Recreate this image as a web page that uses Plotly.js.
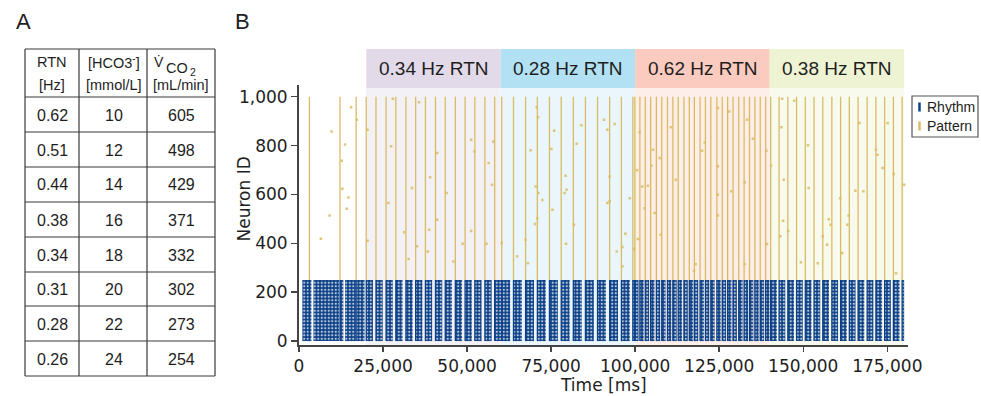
<!DOCTYPE html>
<html>
<head>
<meta charset="utf-8">
<script src="https://cdn.plot.ly/plotly-3.0.1.min.js"></script>
<style>html,body{margin:0;padding:0;background:#fff;}#chart{width:981px;height:396px;}</style>
</head>
<body>
<div id="chart"></div>
<script>
// ---------- Panel A: table data ----------
const headerName = ['RTN', '[HCO3<sup>-</sup>]', null];   // third column header built from vco2Label parts
const vco2Label = ['V\u0307', 'CO', '2'];
const headerUnit = ['[Hz]', '[mmol/L]', '[mL/min]'];
const rtnHz = ['0.62', '0.51', '0.44', '0.38', '0.34', '0.31', '0.28', '0.26'];
const hco3 = [10, 12, 14, 16, 18, 20, 22, 24];
const vco2 = [605, 498, 429, 371, 332, 302, 273, 254];

// ---------- Panel B: stimulation regions ----------
const regionRate = [0.34, 0.28, 0.62, 0.38];
const regionStart = [20000, 60000, 100000, 140000];
const regionEnd = [60000, 100000, 140000, 180000];

// Pattern neurons (IDs 250..1000) synchronous spike times [ms]
const patternIdRange = [250, 1000];
const patternTimes = [3100, 12200, 17000,
  20000, 22900, 25900, 28800, 31800, 34700, 37600, 40600, 43500, 46500, 49400, 52300, 55300, 58200,
  60300, 63800, 67400, 70900, 74500, 78000, 81600, 85200, 88800, 92400, 95900, 99300,
  99900, 101400, 103000, 104600, 106300, 107900, 109600, 111200, 112800, 114500, 116100, 117600, 119300,
  120900, 122500, 124300, 125900, 127500, 129100, 130800, 132400, 134000, 135600, 137200, 138800,
  140300, 142800, 145400, 148000, 150600, 153200, 155800, 158500, 161100, 163700, 166300, 169000,
  171600, 174200, 176800, 179400];

// Sparse pattern-neuron spikes [ms], [ID]
const patternDotT = [15500, 17200, 9700, 13700, 12700, 12900, 14700, 14200, 9100, 6500, 20400, 27400, 26600, 20400, 27900,
  35700, 41100, 33600, 39000, 43900, 41100, 31300, 38700, 38300, 32600, 35100, 51200, 52200, 57800, 56400, 57400, 51200, 48700, 55800, 45900, 60300,
  70700, 71100, 75900, 68900, 75100, 84000, 82600, 90700, 91700, 70400, 71200, 72400, 75400, 79300, 79600, 79000, 70200, 70900, 67400, 64900, 68100, 81800, 79400, 91700,
  93900, 92400, 92400, 98400, 97100, 94500, 96200, 96200, 101300, 105300, 107300, 104800, 100600, 102100, 103800, 102800, 105800, 100800, 99700, 107600, 110600, 112100, 120700, 119900, 118000, 117500,
  124600, 128000, 133300, 135000, 139000, 140400, 124600, 132600, 128600, 124600, 124600, 139200, 132600, 143700, 147300, 143500, 151400, 144200, 151600, 144000, 145500, 143200, 149300,
  166700, 175100, 171600, 172100, 173600, 176900, 180000, 165500, 167900, 161000, 163500, 157600, 163100, 158100, 155800, 157100, 161600, 177600, 154300];
const patternDotId = [957, 906, 858, 804, 738, 623, 588, 542, 514, 419, 865, 797, 565, 411, 992,
  977, 770, 626, 670, 606, 497, 445, 456, 367, 336, 388, 824, 776, 817, 729, 640, 451, 398, 398, 326, 401,
  957, 916, 861, 781, 786, 883, 808, 906, 865, 633, 606, 577, 537, 677, 619, 606, 479, 503, 415, 347, 319, 476, 398, 565,
  888, 674, 572, 585, 439, 367, 385, 306, 855, 783, 749, 719, 699, 633, 636, 544, 524, 418, 377, 435, 875, 660, 813, 779, 315, 288,
  954, 940, 906, 828, 779, 719, 715, 650, 613, 599, 514, 397, 315, 992, 984, 875, 801, 660, 626, 492, 451, 429, 323,
  892, 892, 783, 763, 708, 684, 640, 615, 613, 585, 514, 499, 476, 476, 429, 394, 360, 278, 319];

// Rhythm neurons (IDs 0..250) burst intervals [ms]
const rhythmIdRange = [0, 250];
const rhythmBurstStart = [1000, 4300, 12200, 13700, 17100,
  20000, 22900, 25900, 28800, 31800, 34700, 37600, 40600, 43500, 46500, 49400, 52300, 55300, 58200,
  60300, 63800, 67400, 70900, 74500, 78000, 81600, 85200, 88800, 92400, 95900,
  99300, 101400, 103000, 104600, 106300, 107900, 109600, 111200, 112800, 114500, 116100, 117600, 119300,
  120900, 122500, 124300, 125900, 127500, 129100, 130800, 132400, 134000, 135600, 137200, 138800,
  140300, 142800, 145400, 148000, 150600, 153200, 155800, 158500, 161100, 163700, 166300, 169000,
  171600, 174200, 176800, 179400];
const rhythmBurstEnd = [3700, 11900, 13200, 16900, 19500,
  22000, 24900, 27900, 30800, 33800, 36700, 39600, 42600, 45500, 48500, 51400, 54300, 57300, 60200,
  62800, 66300, 69900, 73400, 77000, 80500, 84100, 87700, 91300, 94900, 98400,
  101000, 102550, 104150, 105750, 107450, 109050, 110750, 112350, 113950, 115650, 117250, 118750, 120450,
  122050, 123650, 125450, 127050, 128650, 130250, 131950, 133550, 135150, 136750, 138350, 139950,
  142150, 144650, 147250, 149850, 152450, 155050, 157650, 160350, 162950, 165550, 168150, 170850,
  173450, 176050, 178650, 180000];

const seriesNames = ['Rhythm', 'Pattern'];
const xTitle = 'Time [ms]';
const yTitle = 'Neuron ID';

// ---------- styles ----------
const W = 981, H = 396;
const BLUE = '#0b3f86';
const GOLD = '#d9bc62';
const headerFill = ['#e2dae9', '#b2e1f3', '#fbcbbf', '#eef4d3'];
const plotFill = ['#f3f1f6', '#eaf6fb', '#fdeeea', '#f8faee'];
const px = v => v / W;
const py = v => 1 - v / H;
const ARIAL = 'Liberation Sans, Arial, sans-serif';
const TXT = '#1e1e1e';

// ---------- traces ----------
const patLineX = [], patLineY = [];
patternTimes.forEach(t => { patLineX.push(t, t, null); patLineY.push(patternIdRange[0], patternIdRange[1], null); });
const rhyLineX = [], rhyLineY = [];
patternTimes.forEach(t => { rhyLineX.push(t, t, null); rhyLineY.push(rhythmIdRange[0], rhythmIdRange[1], null); });

const burstCenter = rhythmBurstStart.map((s, i) => (s + rhythmBurstEnd[i]) / 2);
const burstWidth = rhythmBurstStart.map((s, i) => rhythmBurstEnd[i] - s);

const traces = [
  {
    type: 'bar', name: seriesNames[0], x: burstCenter, width: burstWidth,
    y: rhythmBurstStart.map(() => rhythmIdRange[1] - rhythmIdRange[0]), base: rhythmIdRange[0],
    marker: {color: BLUE, line: {width: 0},
      pattern: {shape: '.', fgcolor: 'rgba(255,255,255,0.7)', bgcolor: BLUE, size: 3.5, solidity: 0.35}},
    hoverinfo: 'skip', showlegend: false
  },
  {
    type: 'scatter', mode: 'lines', name: seriesNames[0], x: rhyLineX, y: rhyLineY,
    line: {color: BLUE, width: 1.3}, hoverinfo: 'skip', showlegend: false
  },
  {
    type: 'scatter', mode: 'lines', name: seriesNames[1], x: patLineX, y: patLineY,
    line: {color: GOLD, width: 1.3}, hoverinfo: 'skip', showlegend: false
  },
  {
    type: 'scatter', mode: 'markers', name: seriesNames[1], x: patternDotT, y: patternDotId,
    marker: {color: 'rgba(217,188,98,0.85)', size: 2.5, symbol: 'square', line: {width: 0}}, hoverinfo: 'skip', showlegend: false
  }
];

// ---------- shapes ----------
const shapes = [];
regionStart.forEach((s, i) => {
  shapes.push({type: 'rect', xref: 'x', yref: 'paper', x0: s, x1: regionEnd[i], y0: py(345), y1: py(88),
    fillcolor: plotFill[i], line: {width: 0}, layer: 'below'});
  shapes.push({type: 'rect', xref: 'x', yref: 'paper', x0: s, x1: regionEnd[i], y0: py(88), y1: py(49),
    fillcolor: headerFill[i], line: {width: 0}, layer: 'below'});
});
// table grid (panel A)
const colEdges = [25, 79, 147, 215];
const rowEdges = [49, 97, 132, 167, 202, 237, 272, 306, 341, 376];
const GRID = {color: '#3a3a3a', width: 1.2};
colEdges.forEach(x => shapes.push({type: 'line', xref: 'paper', yref: 'paper', x0: px(x), x1: px(x), y0: py(rowEdges[rowEdges.length - 1]), y1: py(rowEdges[0]), line: GRID}));
rowEdges.forEach(y => shapes.push({type: 'line', xref: 'paper', yref: 'paper', x0: px(colEdges[0]), x1: px(colEdges[3]), y0: py(y), y1: py(y), line: GRID}));
// legend box and keys
shapes.push({type: 'rect', xref: 'paper', yref: 'paper', x0: px(912), x1: px(978), y0: py(137), y1: py(96),
  line: {color: '#555', width: 1.2}, fillcolor: '#fff'});
shapes.push({type: 'line', xref: 'paper', yref: 'paper', x0: px(919.5), x1: px(919.5), y0: py(111.5), y1: py(102.5),
  line: {color: BLUE, width: 2.5}});
shapes.push({type: 'line', xref: 'paper', yref: 'paper', x0: px(919.5), x1: px(919.5), y0: py(130.5), y1: py(121.5),
  line: {color: GOLD, width: 2.5}});

// ---------- annotations ----------
const annotations = [];
const ann = (x, y, text, size, extra) => annotations.push(Object.assign({xref: 'paper', yref: 'paper', x: px(x), y: py(y), text: text,
  showarrow: false, xanchor: 'center', yanchor: 'middle', borderpad: 0, font: {family: ARIAL, size: size, color: TXT}}, extra || {}));

// table texts
const colCenter = [52, 113.5, 181];
ann(colCenter[0], 62, headerName[0], 14.5);
ann(colCenter[1], 62, headerName[1], 14.5);
ann(159, 62, vco2Label[0], 14);
ann(176.5, 68, vco2Label[1], 14.5);
ann(192.5, 71.5, vco2Label[2], 10.5);
headerUnit.forEach((u, j) => ann(colCenter[j], 85, u, 14.5));
const cols = [rtnHz, hco3, vco2];
cols.forEach((col, j) => col.forEach((v, i) => ann(colCenter[j], (rowEdges[i + 1] + rowEdges[i + 2]) / 2 + 0.5, String(v), 16)));

// region headers
regionStart.forEach((s, i) => {
  annotations.push({xref: 'x', yref: 'paper', x: (s + regionEnd[i]) / 2, y: py(68.5), text: regionRate[i].toFixed(2) + ' Hz RTN',
    showarrow: false, xanchor: 'center', yanchor: 'middle', font: {family: ARIAL, size: 19, color: TXT}});
});
ann(23.5, 21.5, 'A', 22);
ann(242, 21.5, 'B', 22);
const DV = 'DejaVu Sans, Verdana, sans-serif';
ann(603.5, 384.5, xTitle, 17, {font: {family: DV, size: 17, color: TXT}});
ann(243.5, 199, yTitle, 17, {textangle: -90, font: {family: DV, size: 17, color: TXT}});
ann(925.5, 107, seriesNames[0], 14, {xanchor: 'left'});
ann(925.5, 126, seriesNames[1], 14, {xanchor: 'left'});

const axisFont = {family: DV, size: 17, color: TXT};
const layout = {
  width: W, height: H,
  margin: {l: 0, r: 0, t: 0, b: 0},
  paper_bgcolor: '#fff', plot_bgcolor: 'rgba(0,0,0,0)',
  showlegend: false,
  barmode: 'overlay',
  separators: '.,',
  xaxis: {
    domain: [px(299), px(907.5)], range: [0, 181000], dtick: 25000, tick0: 0, tickformat: ',d',
    showgrid: false, zeroline: false, showline: true, linecolor: '#444', linewidth: 2,
    ticks: 'outside', ticklen: 5, tickwidth: 1.5, tickcolor: '#444', tickfont: axisFont
  },
  yaxis: {
    domain: [py(345), py(85)], range: [-16, 1048], dtick: 200, tick0: 0, tickformat: ',d',
    showgrid: false, zeroline: false, showline: true, linecolor: '#444', linewidth: 2,
    ticks: 'outside', ticklen: 6, tickwidth: 1.5, tickcolor: '#444', tickfont: axisFont
  },
  shapes: shapes,
  annotations: annotations
};

Plotly.newPlot('chart', traces, layout, {staticPlot: true, displayModeBar: false});
</script>
</body>
</html>
